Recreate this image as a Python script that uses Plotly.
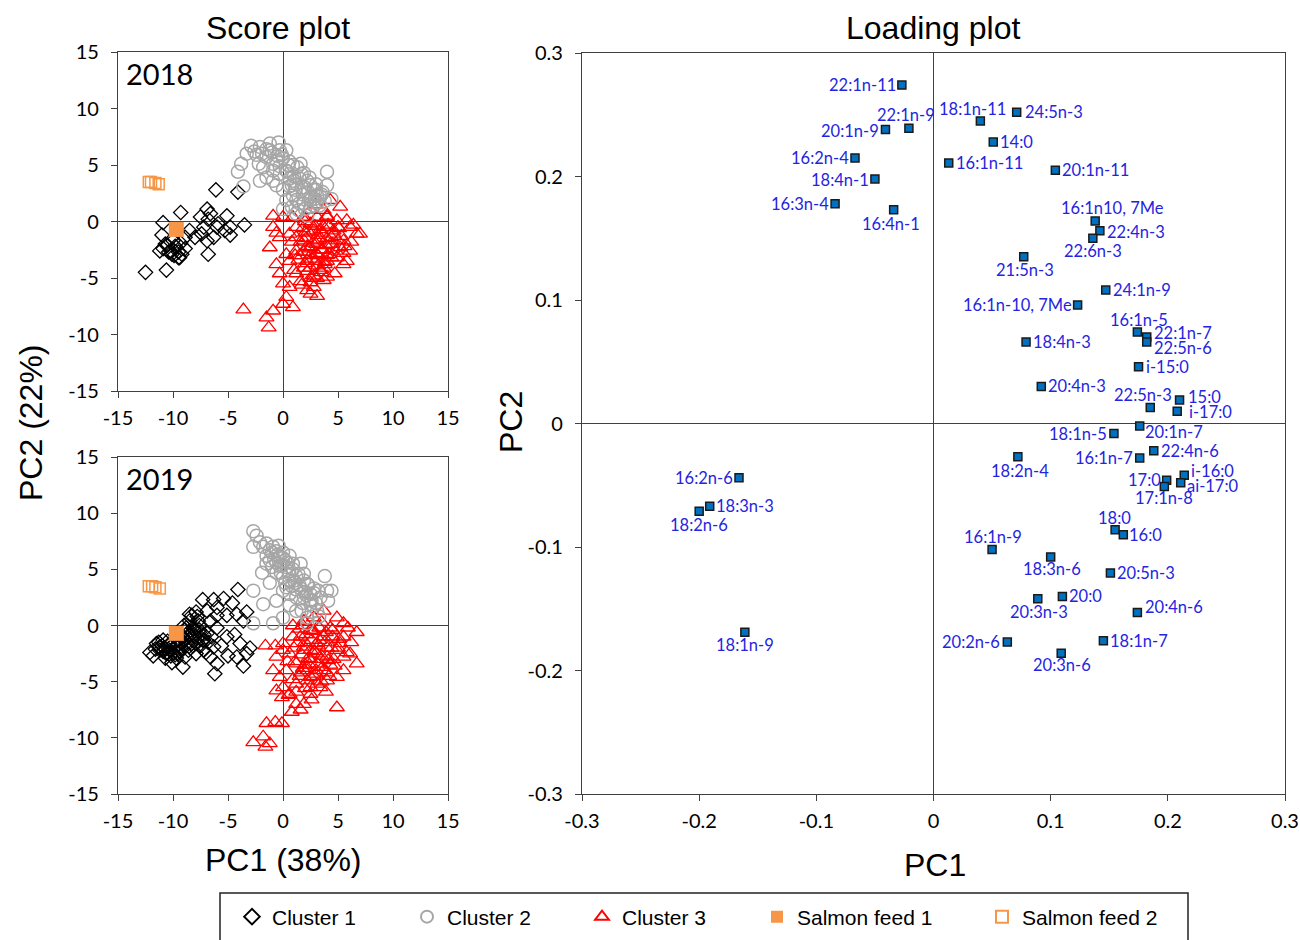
import plotly.graph_objects as go

W, H = 1300, 940

# ---------------- Score plot data (PC1, PC2) ----------------
c1_2018_x = [-6.1, -4.1, -9.3, -10.9, -6.9, -5.1, -3.5, -7.5, -6.6, -5.9, -4.8, -4.8, -11.0, -10.7, -9.7, -10.4,
             -9.5, -9.2, -10.0, -8.9, -8.0, -7.4, -6.9, -6.3, -6.8, -12.5, -10.6, -7.2, -8.5, -11.2, -10.9, -9.4,
             -10.1, -6.8, -6.0, -5.3, -9.8, -10.2, -9.5, -10.5, -9.9, -8.9, -9.3]
c1_2018_y = [2.8, 2.6, 0.8, -0.1, 1.1, 0.5, -0.3, 0.4, 0.7, -0.2, -0.5, -1.2, -1.2, -2.0, -2.3, -2.7,
             -3.2, -2.9, -1.7, -1.4, -1.4, -1.1, -1.7, -1.4, -2.9, -4.5, -4.3, -0.5, -0.8, -2.6, -2.4, -3.2,
             -2.9, 0.2, -0.5, -0.8, -2.2, -2.6, -2.7, -2.1, -3.0, -2.4, -1.9]

c2_2018_x = [-2.9, -2.1, -1.2, -0.4, -3.3, -3.8, -4.1, -3.6, -2.4, -1.5, -0.6, 0.0, 0.3, -1.8, -0.9, -0.3,
             0.3, 0.9, 1.6, 1.7, 2.2, 2.5, 2.8, 3.1, 1.2, 0.6, 0.0, 0.3, 1.2, 1.9, 2.5, 3.4, 4.0, 4.0, 4.4,
             -0.9, -1.5, -2.1, -0.6, 0.8, 1.2, 2.2, 0.0, -1.2, -2.2, 0.6, 1.1, 2.5, 3.1, -0.3, -0.9,
             0.5, 1.0, 1.5, 2.0, 2.5, 3.0, 3.5, -0.5, -1.5, 0.8, 1.8, 3.8, 1.4, 2.8,
             -2.6, -1.9, -1.0, -0.1, 0.6, 1.3, 1.9, 2.4, 3.0, 3.6, -0.3, 0.4, 1.0, 1.7, 2.3, 2.9, 3.3, 0.9, 1.5, 2.0]
c2_2018_y = [6.7, 6.6, 6.9, 7.0, 6.0, 5.1, 4.4, 3.1, 5.9, 5.7, 5.4, 5.6, 6.3, 4.8, 4.5, 4.2,
             4.5, 5.0, 5.1, 4.2, 3.6, 3.2, 2.8, 2.3, 3.3, 3.1, 2.8, 1.9, 1.9, 1.6, 1.9, 2.2, 4.4, 3.2, 2.0,
             3.6, 3.9, 3.6, 3.2, 1.3, 0.7, 0.5, 1.1, 6.3, 5.1, 3.8, 2.8, 1.3, 1.7, 6.3, 5.1,
             5.0, 4.0, 3.8, 3.0, 2.2, 2.8, 2.4, 5.8, 6.4, 3.2, 2.4, 1.8, 1.0, 1.4,
             6.2, 6.0, 6.1, 5.9, 5.3, 4.8, 4.3, 3.9, 3.3, 2.6, 4.9, 4.4, 3.6, 3.0, 2.6, 2.0, 1.4, 2.3, 1.6, 1.1]

c3_2018_x = [-0.9, 0.0, -0.9, -0.6, -1.2, -0.3, 0.6, 1.2, 2.5, 3.7, 4.3, 5.2, 5.8, 6.1, 6.7, 7.0, 5.5,
             6.1, 4.9, 4.0, 3.1, 2.5, 1.9, 1.2, 0.6, -0.6, -0.3, 0.0, 0.6, 0.3, 0.0, -0.9, -1.5, -1.3,
             -3.6, 0.9, 2.2, 2.5, 3.1, 2.8, 1.2, 1.9, 2.5, 3.7, 3.1, 4.3, 4.6, 3.7, 2.5, 3.1, 1.9, 0.9,
             1.2, 2.2, 5.5, 5.2, 5.8, 0.3, 4.0, 4.9,
             3.0, 3.5, 4.0, 2.5, 3.0, 4.5, 2.0, 3.5, 4.0, 2.8, 3.2, 2.2, 3.8, 4.2, 1.5, 2.5, 3.5, 1.0,
             1.6, 2.0, 3.0, 4.0, 5.0, 5.5, 6.2,
             1.8, 2.3, 2.9, 3.4, 4.1, 4.6, 5.1, 1.6, 2.1, 2.7, 3.3, 3.9, 4.4, 5.0, 5.6, 1.9, 2.4, 3.0, 3.6, 4.2,
             4.8, 1.4, 2.0, 2.6, 3.2, 3.8, 4.4, 2.2, 2.8, 3.4, 4.0, 1.7, 2.5, 3.1, 3.7, 0.8, 1.1, 4.7, 5.3, 6.4]
c3_2018_y = [0.5, 0.4, -0.5, -1.0, -2.3, -1.4, -1.1, -0.5, -0.2, 1.0, 1.9, 1.3, 0.1, -0.5, -1.1, -1.1, -1.7,
             -2.6, -3.2, -3.5, -2.9, -2.3, -1.7, -2.6, -3.5, -3.8, -4.6, -5.5, -5.8, -6.7, -7.3, -7.9, -8.5, -9.4,
             -7.8, -7.6, -6.1, -6.4, -6.6, -5.8, -4.6, -4.1, -4.1, -4.1, -1.7, -2.0, -1.1, -0.5, 1.0, 0.4, 0.4, 0.4,
             -1.4, -3.5, -3.8, -2.3, -3.5, -2.9, 0.4, 0.1,
             -2.0, -2.5, -3.0, -3.0, -3.5, -2.0, -1.0, -1.0, -1.5, -0.8, -1.2, -2.2, -3.8, -0.5, -3.0, -5.0, -4.5, -4.3,
             -5.3, 0.0, 1.5, 0.5, -0.5, -2.8, -1.8,
             -0.6, -0.9, -0.4, -0.7, -0.3, -0.8, -0.6, -1.8, -1.5, -1.9, -1.6, -2.1, -1.4, -1.7, -2.2, -2.7, -2.4, -2.8, -2.5, -2.9,
             -2.6, -3.4, -3.7, -3.3, -3.9, -3.6, -3.2, -4.4, -4.8, -4.3, -4.9, -5.6, -5.4, -5.0, -5.2, -1.8, -3.0, -4.6, -1.3, -0.3]

f1_2018_x = [-9.7]
f1_2018_y = [-0.7]
f2_2018_x = [-12.2, -12.0, -11.6, -11.3]
f2_2018_y = [3.5, 3.5, 3.4, 3.3]

c1_2019_x = [-4.1, -7.3, -6.3, -5.4, -4.6, -6.0, -5.1, -4.2, -3.3, -3.6, -6.9, -7.9, -8.3, -8.5, -7.7, -6.6,
             -6.0, -5.1, -4.4, -3.9, -3.0, -3.3, -4.2, -5.0, -5.6, -6.3, -6.8, -6.9, -7.6, -8.2, -8.8, -9.1,
             -9.2, -9.7, -10.3, -10.9, -11.5, -12.1, -11.8, -11.2, -10.6, -10.1, -9.1, -7.9, -7.2, -6.6, -6.0,
             -6.2, -3.6, -8.3, -8.6, -8.9, -7.9, -7.2, -9.5, -11.2, -10.7, -10.0, -9.5, -8.9, -8.5, -8.0, -7.6,
             -10.8, -10.4, -10.0, -9.6, -9.2, -10.6, -11.0, -9.8, -8.8, -8.4, -7.5, -9.0, -8.0, -7.2, -7.8,
             -8.5, -6.5, -6.0,
             -11.6, -11.3, -10.9, -10.5, -10.2, -9.9, -9.4, -9.0, -8.7, -8.2, -7.8, -7.3, -10.7, -10.3, -9.7,
             -9.3, -8.6, -8.1, -7.6, -7.0]
c1_2019_y = [3.2, 2.3, 2.3, 2.4, 2.0, 1.6, 0.9, 1.0, 1.2, 0.4, 1.3, 1.2, 0.9, 0.4, 0.4, 0.4,
             -0.2, -1.0, -0.8, -1.6, -2.0, -2.5, -2.8, -2.7, -1.8, -1.9, -1.5, -0.7, -0.4, -0.2, -0.2, -1.0,
             -1.6, -1.9, -1.6, -1.3, -1.6, -2.4, -2.7, -2.2, -2.5, -3.3, -3.7, -2.5, -2.2, -2.8, -3.4,
             -4.3, -3.6, -1.6, -2.2, -2.8, -1.6, -1.3, -2.5, -1.9, -2.1, -2.4, -1.3, -0.4, -0.9, -1.0, 0.0,
             -2.0, -1.8, -2.1, -1.7, -2.0, -2.4, -1.8, -2.6, -1.8, -2.0, -1.8, 0.0, -0.5, -0.8, 0.8,
             1.0, -1.0, 0.9,
             -2.1, -1.5, -2.3, -1.4, -2.7, -1.6, -2.3, -1.2, -1.5, -1.8, -1.1, -1.3, -2.9, -2.2, -2.9,
             -0.8, -0.6, -0.3, -0.6, -2.4]

c2_2019_x = [-2.7, -2.4, -2.7, -2.1, -1.5, -0.9, -0.4, 0.0, 0.6, -1.5, -1.2, -0.6, -0.3, 0.3, 0.9, 1.6,
             -0.6, 0.0, 0.6, 1.2, 1.9, 2.2, 2.8, 3.2, 3.8, 4.0, 4.4, 4.1, 0.0, 0.6, 1.2, 1.9, 2.5, -2.7,
             -1.8, -2.7, -0.9, 0.0, 1.2, 2.2, 2.2, 3.1, -1.2, -1.9, 0.6, 1.7, -0.6, 0.3, 2.5, -1.0, -0.3,
             0.5, 1.0, 1.5, 2.0, 0.2, -0.5, 1.2, 2.5, 3.0, 0.8, 1.8, 2.6, 3.3, -0.2, -1.0,
             -1.8, -1.2, -0.6, 0.0, 0.4, 0.9, 1.4, 1.9, 2.3, 2.8, 3.4, -0.1, 0.6, 1.1, 1.6, 2.1, 2.6, -1.5, -0.8, 0.2]
c2_2019_y = [8.4, 8.0, 7.0, 7.4, 7.3, 7.0, 7.1, 6.5, 6.2, 6.2, 5.8, 5.6, 5.3, 5.2, 5.5, 5.5,
             4.7, 4.3, 4.0, 4.4, 4.6, 3.7, 3.3, 3.1, 4.4, 3.1, 3.1, 2.2, 3.1, 2.8, 2.5, 2.5, 1.9, 3.1,
             1.9, 0.2, 0.2, 0.7, 1.3, 0.7, 0.2, 1.3, 3.8, 4.7, 1.8, 1.3, 2.2, 3.4, 2.8, 6.5, 6.1,
             4.8, 4.0, 3.6, 3.0, 5.8, 6.3, 3.2, 2.3, 2.0, 3.5, 2.0, 1.2, 0.8, 4.7, 5.2,
             7.0, 6.7, 6.6, 6.0, 5.6, 5.0, 4.6, 4.0, 3.6, 2.9, 2.5, 5.4, 4.6, 3.8, 3.3, 2.7, 2.2, 5.5, 5.9, 3.8]

c3_2019_x = [-1.6, -0.7, 0.0, 0.9, 1.9, 2.8, 3.7, 4.9, 5.5, 5.9, 6.7, 6.1, 6.7, 5.5, 4.9, 4.0, 3.1,
             2.5, 1.9, 1.2, 0.6, 0.0, -0.6, -0.9, -0.3, 0.0, 0.6, 1.2, 1.9, 1.6, 0.8, -0.1, -0.6, -1.5,
             -0.7, -0.1, -2.7, -1.8, -1.6, -1.2, 4.9, 2.5, 3.1, 3.7, 4.3, 2.5, 1.6, 3.1, 4.0, 4.9, 5.5,
             1.9, 1.2, 2.5, 3.7, 5.5, 0.9, 0.3,
             2.0, 3.0, 3.5, 2.5, 4.0, 2.8, 3.3, 4.3, 2.0, 1.5, 2.5, 3.5, 4.5, 5.0, 1.0, 1.8, 3.5, 2.2,
             3.0, 4.0,
             1.5, 2.1, 2.7, 3.3, 3.9, 4.5, 5.1, 1.3, 1.9, 2.6, 3.2, 3.8, 4.4, 5.2, 5.8, 1.7, 2.3, 2.9, 3.5, 4.1,
             4.7, 1.1, 1.8, 2.4, 3.0, 3.6, 4.2, 0.9, 1.6, 2.2, 2.8, 3.4, 0.5, 1.2, 2.0, 2.6, 3.9, 4.6, 6.2, 0.4]
c3_2019_y = [-1.8, -1.8, -1.6, 0.0, 0.4, 0.7, 1.3, 0.7, 0.2, -0.2, -0.6, -2.5, -3.4, -4.0, -4.6, -4.9, -5.2,
             -4.6, -4.0, -3.4, -2.5, -2.2, -2.8, -4.0, -4.6, -5.5, -6.1, -7.0, -7.0, -7.5, -7.7, -6.4, -5.8, -8.7,
             -8.6, -8.7, -10.4, -9.9, -10.8, -10.5, -7.3, -2.2, -1.6, -1.0, -0.2, -0.4, -1.0, -3.4, -2.8, -2.2, -2.8,
             -2.2, -5.2, -6.1, -4.0, -1.0, -1.0, -4.0,
             -1.5, -2.5, -3.0, -3.0, -2.0, -0.5, -1.3, -3.5, -3.5, -4.5, -5.5, -5.0, -1.0, -2.0, -2.0, 0.0, 0.3, -4.0,
             -4.3, -4.2,
             -0.3, -0.8, -0.5, -0.2, -0.6, -0.4, -1.2, -1.6, -1.9, -1.3, -1.8, -1.5, -2.0, -1.6, -2.4, -2.6, -2.9, -2.3, -2.7, -3.1,
             -3.6, -3.2, -3.8, -3.5, -4.0, -3.7, -4.5, -4.8, -4.2, -4.9, -4.5, -5.5, -6.2, -5.9, -5.6, -6.6, -5.9, -3.0, -1.5, -3.2]

f1_2019_x = [-9.7]
f1_2019_y = [-0.7]
f2_2019_x = [-12.2, -11.9, -11.6, -11.2]
f2_2019_y = [3.5, 3.5, 3.4, 3.3]

score_ticks = [-15, -10, -5, 0, 5, 10, 15]
score_ticktext = ["-15", "-10", "-5", "0", "5", "10", "15"]

# ---------------- Loading plot data ----------------
fa_labels = ["22:1n-11", "22:1n-9", "20:1n-9", "16:2n-4", "18:4n-1", "16:3n-4", "16:4n-1", "18:1n-11",
             "24:5n-3", "14:0", "16:1n-11", "20:1n-11", "16:1n10, 7Me", "22:4n-3", "22:6n-3", "21:5n-3",
             "24:1n-9", "16:1n-10, 7Me", "16:1n-5", "22:1n-7", "22:5n-6", "18:4n-3", "i-15:0", "20:4n-3",
             "22:5n-3", "15:0", "i-17:0", "20:1n-7", "18:1n-5", "22:4n-6", "18:2n-4", "16:1n-7", "i-16:0",
             "ai-17:0", "17:0", "17:1n-8", "18:0", "16:0", "16:1n-9", "18:3n-6", "20:5n-3", "20:0",
             "20:3n-3", "20:4n-6", "20:2n-6", "18:1n-7", "20:3n-6", "16:2n-6", "18:3n-3", "18:2n-6", "18:1n-9"]
pc1_load = [-0.027, -0.021, -0.041, -0.067, -0.050, -0.084, -0.034, 0.040,
            0.071, 0.051, 0.013, 0.104, 0.138, 0.142, 0.136, 0.077,
            0.147, 0.123, 0.174, 0.182, 0.182, 0.079, 0.175, 0.092,
            0.185, 0.210, 0.208, 0.176, 0.154, 0.188, 0.072, 0.176, 0.214,
            0.211, 0.199, 0.197, 0.155, 0.162, 0.050, 0.100, 0.151, 0.110,
            0.089, 0.174, 0.063, 0.145, 0.109, -0.166, -0.191, -0.200, -0.161]
pc2_load = [0.274, 0.239, 0.238, 0.215, 0.198, 0.178, 0.173, 0.245,
            0.252, 0.228, 0.211, 0.205, 0.164, 0.156, 0.150, 0.135,
            0.108, 0.096, 0.074, 0.070, 0.066, 0.066, 0.046, 0.030,
            0.013, 0.019, 0.010, -0.002, -0.008, -0.022, -0.027, -0.028, -0.042,
            -0.048, -0.046, -0.051, -0.086, -0.090, -0.102, -0.108, -0.121, -0.140,
            -0.142, -0.153, -0.177, -0.176, -0.186, -0.044, -0.067, -0.071, -0.169]

# label placement style: (anchor side, x offset px, y offset px; +y = up)
label_style = [("right", -6, 0), ("center", -3, 13), ("right", -6, -1), ("right", -6, 0),
               ("right", -6, -1), ("right", -6, 0), ("center", -3, -14), ("center", -8, 12),
               ("left", 8, 0), ("left", 7, 0), ("left", 7, 0), ("left", 7, 0),
               ("center", 17, 13), ("left", 7, -1), ("center", 0, -13), ("center", 1, -13),
               ("left", 7, 0), ("right", -6, 0), ("center", 2, 12), ("left", 7, 4),
               ("left", 7, -6), ("left", 7, 0), ("left", 7, 0), ("left", 7, 0),
               ("center", -7, 12), ("left", 8, 3), ("left", 12, -1), ("left", 5, -6),
               ("right", -7, -1), ("left", 7, 0), ("center", 2, -14), ("right", -7, 0),
               ("left", 7, 4), ("left", 6, -3), ("right", -6, 0), ("center", 0, -12),
               ("center", -1, 12), ("left", 6, 0), ("center", 1, 12), ("center", 1, -12),
               ("left", 7, 0), ("left", 7, 0), ("center", 1, -13), ("left", 8, 5),
               ("right", -7, 0), ("left", 7, 0), ("center", 1, -12), ("right", -6, 0),
               ("left", 6, 0), ("center", 0, -14), ("center", 0, -13)]

load_ticks = [-0.3, -0.2, -0.1, 0, 0.1, 0.2, 0.3]
load_ticktext = ["-0.3", "-0.2", "-0.1", "0", "0.1", "0.2", "0.3"]

# ---------------- helpers ----------------
def fx(p):
    return p / W

def fy(p):
    return 1 - p / H

LATO = "Lato, Open Sans, sans-serif"
TICKFONT = dict(family=LATO, size=20, color="#000")
ARIAL = "Liberation Sans, Arial, sans-serif"

fig = go.Figure()

styles = {
    "c1": dict(name="Cluster 1", marker=dict(symbol="diamond-open", color="#000000", size=11, line=dict(width=1.3, color="#000000")), legend="legend"),
    "c2": dict(name="Cluster 2", marker=dict(symbol="circle-open", color="#A6A6A6", size=13, line=dict(width=1.5, color="#A6A6A6")), legend="legend2"),
    "c3": dict(name="Cluster 3", marker=dict(symbol="triangle-up-open", color="#FF0000", size=13, line=dict(width=1.3, color="#FF0000")), legend="legend3"),
    "f1": dict(name="Salmon feed 1", marker=dict(symbol="square", color="#F79646", size=15), legend="legend4"),
    "f2": dict(name="Salmon feed 2", marker=dict(symbol="square-open", color="#F79646", size=11, line=dict(width=1.5, color="#F79646")), legend="legend5"),
}

series = [
    ("c1", c1_2018_x, c1_2018_y, c1_2019_x, c1_2019_y),
    ("c3", c3_2018_x, c3_2018_y, c3_2019_x, c3_2019_y),
    ("c2", c2_2018_x, c2_2018_y, c2_2019_x, c2_2019_y),
    ("f2", f2_2018_x, f2_2018_y, f2_2019_x, f2_2019_y),
    ("f1", f1_2018_x, f1_2018_y, f1_2019_x, f1_2019_y),
]
for key, x18, y18, x19, y19 in series:
    s = styles[key]
    fig.add_trace(go.Scatter(x=x18, y=y18, mode="markers", name=s["name"], marker=s["marker"],
                             xaxis="x", yaxis="y", legend=s["legend"], showlegend=True, hoverinfo="skip"))
    fig.add_trace(go.Scatter(x=x19, y=y19, mode="markers", name=s["name"], marker=s["marker"],
                             xaxis="x2", yaxis="y2", legend=s["legend"], showlegend=False, hoverinfo="skip"))

fig.add_trace(go.Scatter(
    x=pc1_load, y=pc2_load, mode="markers",
    marker=dict(symbol="square", size=8, color="#0070C0", line=dict(width=1.5, color="#1a1a1a")),
    xaxis="x3", yaxis="y3", showlegend=False, hoverinfo="skip"))

for lab, xv, yv, (side, dx, dy) in zip(fa_labels, pc1_load, pc2_load, label_style):
    pad = 2 if side == "left" else (-2 if side == "right" else 0)
    fig.add_annotation(x=xv, y=yv, xref="x3", yref="y3", text=lab, showarrow=False,
                       xanchor=side, yanchor="middle", xshift=dx - pad, yshift=dy,
                       font=dict(family=LATO, size=16.5, color="#2424E0"))

def make_axis(domain, anchor, rng, tv, tt, standoff):
    return dict(domain=domain, anchor=anchor, range=rng, tickvals=tv, ticktext=tt,
                showgrid=False, zeroline=True, zerolinecolor="#404040", zerolinewidth=1,
                showline=True, linecolor="#404040", linewidth=1.2, mirror=True,
                ticks="outside", ticklen=6, tickcolor="#404040", tickfont=TICKFONT,
                ticklabelstandoff=standoff)

sx = [fx(118), fx(448)]
S = ([-15, 15], score_ticks, score_ticktext)
L = ([-0.3, 0.3], load_ticks, load_ticktext)
fig.update_layout(
    width=W, height=H, margin=dict(l=0, r=0, t=0, b=0, autoexpand=False),
    paper_bgcolor="white", plot_bgcolor="white",
    xaxis=make_axis(sx, "y", *S, 3),
    yaxis=make_axis([fy(391), fy(52)], "x", *S, 8),
    xaxis2=make_axis(sx, "y2", *S, 3),
    yaxis2=make_axis([fy(794), fy(457)], "x2", *S, 8),
    xaxis3=make_axis([fx(582), fx(1285)], "y3", *L, 3),
    yaxis3=make_axis([fy(794), fy(53)], "x3", *L, 8),
)

leg_common = dict(orientation="h", yanchor="middle", y=fy(917), xanchor="left",
                  font=dict(family=ARIAL, size=21, color="#000"), bgcolor="rgba(0,0,0,0)",
                  borderwidth=0, itemsizing="constant")
sym_x = [251, 426, 601, 776, 1001]
fig.update_layout(
    legend=dict(leg_common, x=fx(sym_x[0] - 19)),
    legend2=dict(leg_common, x=fx(sym_x[1] - 19)),
    legend3=dict(leg_common, x=fx(sym_x[2] - 19)),
    legend4=dict(leg_common, x=fx(sym_x[3] - 19)),
    legend5=dict(leg_common, x=fx(sym_x[4] - 19)),
)

fig.add_shape(type="rect", xref="paper", yref="paper", x0=fx(220), x1=fx(1188), y0=fy(960), y1=fy(893),
              line=dict(color="#222", width=1.5), fillcolor="rgba(0,0,0,0)", layer="below")

ann = [
    dict(text="Score plot", x=fx(278), y=fy(28), font=dict(family=ARIAL, size=32, color="#000")),
    dict(text="Loading plot", x=fx(933), y=fy(28), font=dict(family=ARIAL, size=32, color="#000")),
    dict(text="PC2 (22%)", x=fx(31), y=fy(423), textangle=-90, font=dict(family=ARIAL, size=32, color="#000")),
    dict(text="PC1 (38%)", x=fx(283), y=fy(860), font=dict(family=ARIAL, size=32, color="#000")),
    dict(text="PC2", x=fx(511), y=fy(422), textangle=-90, font=dict(family=ARIAL, size=32, color="#000")),
    dict(text="PC1", x=fx(935), y=fy(865), font=dict(family=ARIAL, size=32, color="#000")),
]
for a in ann:
    fig.add_annotation(xref="paper", yref="paper", showarrow=False, xanchor="center", yanchor="middle", **a)

for yr, ypix in (("2018", 73), ("2019", 478)):
    fig.add_annotation(text=yr, xref="paper", yref="paper", x=fx(124), y=fy(ypix), xanchor="left", yanchor="middle",
                       showarrow=False, font=dict(family=LATO, size=29, color="#000"))

fig.write_html("out.html")
